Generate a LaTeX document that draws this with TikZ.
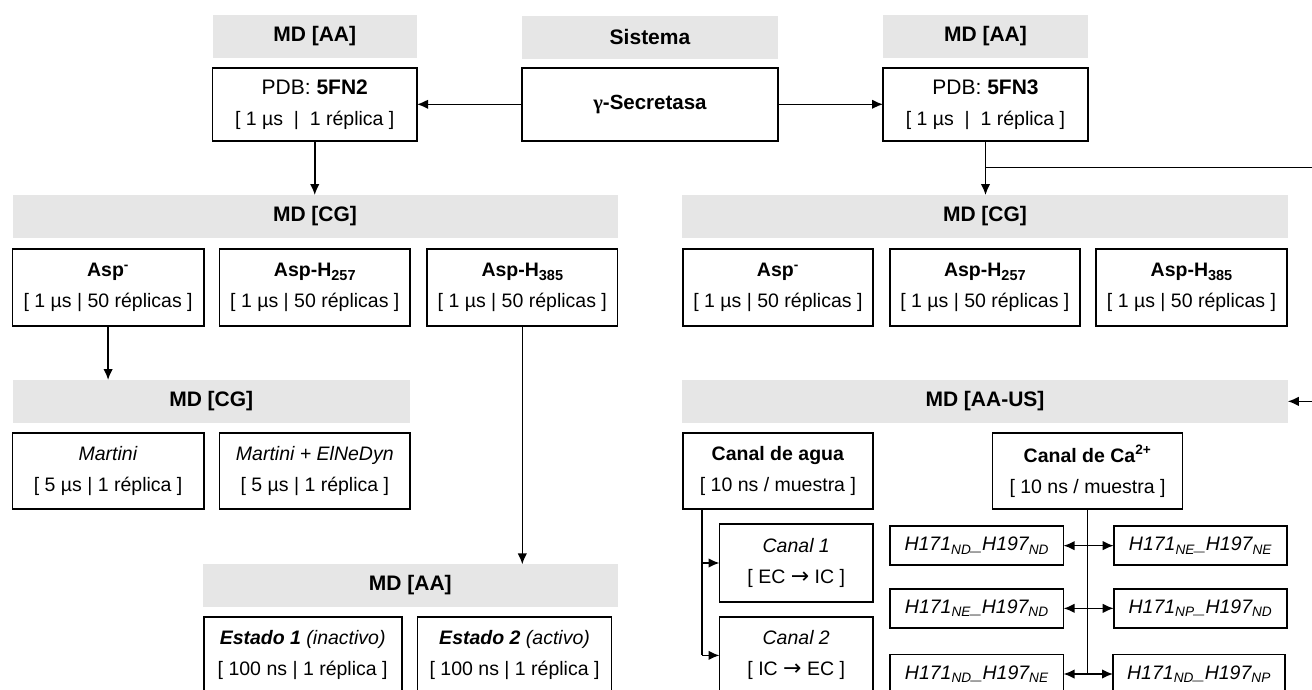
\documentclass[tikz,border=0pt]{standalone}
\usepackage{fontspec}
\setmainfont{Liberation Sans}
\newfontfamily\gfont{Liberation Serif}
\newfontfamily\arrfont{DejaVu Sans}
\usetikzlibrary{arrows.meta}
\definecolor{hdr}{RGB}{230,230,230}
\newcommand{\rarr}{{\arrfont\fontsize{22}{22}\selectfont →}}
\newcommand{\bigln}{\fontsize{21}{31}\selectfont}
\newcommand{\sbs}[1]{\raisebox{-3.5pt}{\fontsize{14.5}{14.5}\selectfont #1}}
\tikzset{
 every node/.style={inner sep=0pt, outer sep=0pt},
 hdrbox/.style={fill=hdr, font=\fontsize{21}{25}\selectfont\bfseries, text=black},
 box/.style={draw=black, line width=1.7pt, fill=white, align=center, font=\fontsize{19.5}{31}\selectfont},
 hbox/.style={box, font=\fontsize{19.5}{23}\selectfont\itshape},
 conn/.style={line width=1.5pt, -{Latex[length=11pt,width=9.5pt]}},
 bconn/.style={line width=1.5pt, {Latex[length=11pt,width=9.5pt]}-{Latex[length=11pt,width=9.5pt]}},
 plain/.style={line width=1.5pt},
}
\begin{document}
\begin{tikzpicture}[x=1pt,y=-1pt]
\useasboundingbox (0,0) rectangle (1312,689);
\fill[white] (0,0) rectangle (1312,689);
\clip (0,0) rectangle (1312,689);

% top row
\node[hdrbox, minimum width=204.5pt, minimum height=43pt] (gAA1) at (314.75,36.5) {MD [AA]};
\node[box, minimum width=204.5pt, minimum height=73pt] (pdb2) at (314.75,104.8) {{\bigln PDB: \textbf{5FN2}}\\{[} 1 µs~~|~~1 réplica ]};
\node[hdrbox, minimum width=256pt, minimum height=43pt] (gSis) at (650,37) {Sistema};
\node[box, minimum width=256pt, minimum height=72.7pt, font=\fontsize{20.5}{23}\selectfont\bfseries] (sec) at (650,104.3) {{\gfont γ}-Secretasa};
\node[hdrbox, minimum width=205pt, minimum height=43pt] (gAA2) at (985.5,36) {MD [AA]};
\node[box, minimum width=205pt, minimum height=73pt] (pdb3) at (985.5,104.8) {{\bigln PDB: \textbf{5FN3}}\\{[} 1 µs~~|~~1 réplica ]};

\draw[conn] (sec.west) -- (pdb2.east |- sec.west);
\draw[conn] (sec.east) -- (pdb3.west |- sec.east);

% left CG
\node[hdrbox, minimum width=605pt, minimum height=42.7pt] (gCG1) at (315,216.4) {MD [CG]};
\node[box, minimum width=191.2pt, minimum height=77pt] (a1) at (108.1,287.5) {\textbf{Asp\textsuperscript{-}}\\{[} 1 µs | 50 réplicas ]};
\node[box, minimum width=190.4pt, minimum height=77pt] (a2) at (314.8,287.5) {\textbf{Asp-H\sbs{257}}\\{[} 1 µs | 50 réplicas ]};
\node[box, minimum width=190.6pt, minimum height=77pt] (a3) at (522.3,287.5) {\textbf{Asp-H\sbs{385}}\\{[} 1 µs | 50 réplicas ]};
\draw[conn] (pdb2.south) -- (gCG1.north -| pdb2.south);

\node[hdrbox, minimum width=397.5pt, minimum height=42.7pt] (gCG2) at (211.25,401.35) {MD [CG]};
\node[box, minimum width=191.2pt, minimum height=76pt] (m1) at (108.1,471.3) {\textit{Martini}\\{[} 5 µs | 1 réplica ]};
\node[box, minimum width=190.4pt, minimum height=76pt] (m2) at (314.8,471.3) {\textit{Martini + ElNeDyn}\\{[} 5 µs | 1 réplica ]};
\draw[conn] (a1.south) -- (a1.south |- gCG2.north);

\node[hdrbox, minimum width=414.6pt, minimum height=42.4pt] (gAA3) at (410.3,585.5) {MD [AA]};
\node[box, minimum width=198pt, minimum height=76pt] (e1) at (302.65,654.7) {\textbf{\textit{Estado 1}} \textit{(inactivo)}\\{[} 100 ns | 1 réplica ]};
\node[box, minimum width=194pt, minimum height=76pt] (e2) at (514.55,654.7) {\textbf{\textit{Estado 2}} \textit{(activo)}\\{[} 100 ns | 1 réplica ]};
\draw[conn] (a3.south) -- (a3.south |- gAA3.north);

% right CG
\node[hdrbox, minimum width=605.5pt, minimum height=42.7pt] (gCG3) at (985,216.4) {MD [CG]};
\node[box, minimum width=190.2pt, minimum height=77pt] (b1) at (777.9,287.5) {\textbf{Asp\textsuperscript{-}}\\{[} 1 µs | 50 réplicas ]};
\node[box, minimum width=190.3pt, minimum height=77pt] (b2) at (984.85,287.5) {\textbf{Asp-H\sbs{257}}\\{[} 1 µs | 50 réplicas ]};
\node[box, minimum width=191pt, minimum height=77pt] (b3) at (1191.5,287.5) {\textbf{Asp-H\sbs{385}}\\{[} 1 µs | 50 réplicas ]};
\draw[conn] (pdb3.south) -- (gCG3.north -| pdb3.south);

% AA-US
\node[hdrbox, minimum width=605.5pt, minimum height=42.7pt] (gUS) at (985,401.35) {MD [AA-US]};
\coordinate (br) at (985.5,167.3);
\coordinate (edge) at (1318,167.3);
\draw[conn] (br) -- (edge) |- (gUS.east);

\node[box, minimum width=190.2pt, minimum height=76.6pt] (agua) at (777.9,471) {\textbf{Canal de agua}\\{[} 10 ns / muestra ]};
\node[box, minimum width=190.1pt, minimum height=76.6pt] (ca) at (1087.55,471) {\textbf{Canal de Ca\textsuperscript{2+}}\\{[} 10 ns / muestra ]};

\node[box, minimum width=153.5pt, minimum height=77.4pt] (c1) at (796.25,563) {\textit{Canal 1}\\{[} EC \rarr{} IC ]};
\node[box, minimum width=153.5pt, minimum height=77.4pt] (c2) at (796.25,655.4) {\textit{Canal 2}\\{[} IC \rarr{} EC ]};
\coordinate (aguaL) at (702,509.3);
\draw[plain] (aguaL) -- (aguaL |- c2.west);
\draw[conn] (aguaL |- c1.west) -- (c1.west);
\draw[conn] (aguaL |- c2.west) -- (c2.west);

\node[hbox, minimum width=173.6pt, minimum height=39.3pt] (h1L) at (976.8,545.65) {H171\textsubscript{ND}\_H197\textsubscript{ND}};
\node[hbox, minimum width=173.5pt, minimum height=39.3pt] (h1R) at (1200.45,545.65) {H171\textsubscript{NE}\_H197\textsubscript{NE}};
\node[hbox, minimum width=173.6pt, minimum height=38.7pt] (h2L) at (976.8,608.35) {H171\textsubscript{NE}\_H197\textsubscript{ND}};
\node[hbox, minimum width=173.5pt, minimum height=38.7pt] (h2R) at (1200.45,608.35) {H171\textsubscript{NP}\_H197\textsubscript{ND}};
\node[hbox, minimum width=173.6pt, minimum height=39.3pt] (h3L) at (976.8,674) {H171\textsubscript{ND}\_H197\textsubscript{NE}};
\node[hbox, minimum width=172pt, minimum height=39.3pt] (h3R) at (1199,674) {H171\textsubscript{ND}\_H197\textsubscript{NP}};
\draw[plain] (ca.south) -- (ca.south |- h3L.east);
\draw[bconn] (h1L.east) -- (h1R.west);
\draw[bconn] (h2L.east) -- (h2R.west);
\draw[bconn] (h3L.east) -- (h3R.west);
\end{tikzpicture}
\end{document}
